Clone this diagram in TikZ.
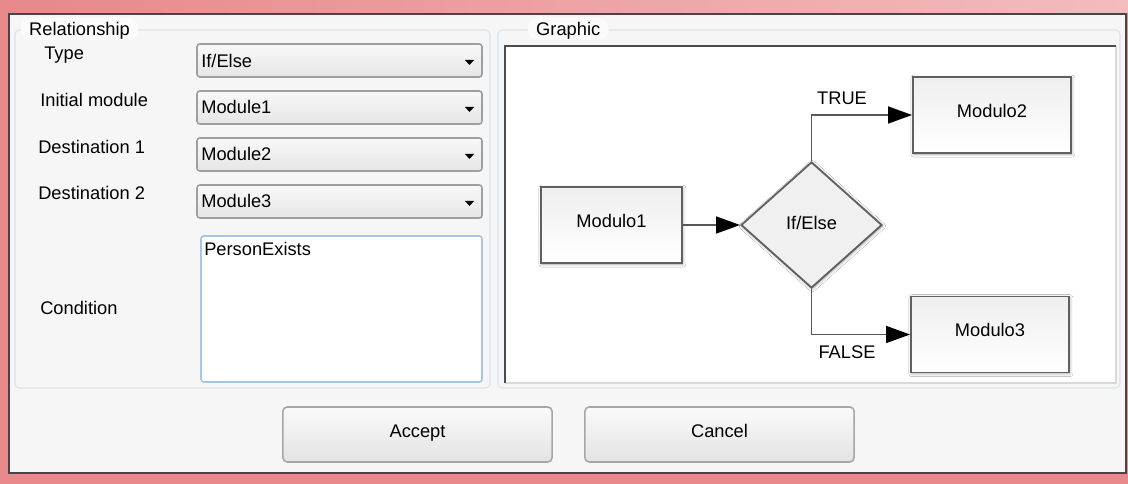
\documentclass[tikz,border=0pt]{standalone}
\usepackage{fontspec}
\setmainfont{Liberation Sans}
\usetikzlibrary{positioning, arrows.meta, shapes.geometric, shadows.blur}

\definecolor{framepink}{RGB}{231,136,138}
\definecolor{framelight}{RGB}{243,188,190}
\definecolor{winbg}{RGB}{246,246,246}
\definecolor{groupline}{RGB}{216,228,236}
\definecolor{editline}{RGB}{166,198,226}
\definecolor{boxline}{RGB}{96,96,96}
\definecolor{wireline}{RGB}{88,88,88}

\begin{document}
\begin{tikzpicture}[
        x=0.025cm, y=-0.025cm,
        every node/.style={font=\fontsize{13}{15}\selectfont, inner sep=0pt},
        txt/.style={anchor=west, text height=9.3pt, text depth=0pt},
        grouptab/.style={txt, fill=white!55!winbg, rounded corners=7pt, inner xsep=6pt, inner ysep=3pt},
        groupbox/.style={draw=groupline, line width=0.8pt, rounded corners=3pt},
        combo/.style={draw=gray!75, line width=1.1pt, rounded corners=2pt, top color=gray!5, bottom color=gray!20},
        module/.style={draw=boxline, line width=1.3pt, minimum width=3.95cm, minimum height=1.9cm,
            top color=gray!13, bottom color=white, text height=9.3pt, text depth=6pt,
            blur shadow={shadow xshift=0.6pt, shadow yshift=-0.8pt, shadow opacity=35, shadow blur steps=6}},
        decision/.style={diamond, draw=boxline, line width=1.3pt, fill=gray!12,
            minimum width=3.525cm, minimum height=3.15cm, text height=9.3pt, text depth=3pt,
            blur shadow={shadow xshift=0.6pt, shadow yshift=-0.8pt, shadow opacity=35, shadow blur steps=6}},
        flow/.style={draw=wireline, line width=1.1pt, -{Triangle[length=0.6cm, width=0.425cm, color=black]}},
        button/.style={draw=gray!70, line width=1.1pt, rounded corners=3pt, top color=gray!4, bottom color=gray!22,
            minimum width=6.725cm, minimum height=1.375cm, text height=9.3pt, text depth=5pt}]

    \useasboundingbox (0,0) rectangle (1128,484);

    % window frame
    \fill[framepink] (0,0) rectangle (1128,484);
    \shade[left color=framepink, right color=framelight] (0,0) rectangle (1128,13);
    \fill[winbg] (9,14) rectangle (1126,473);
    \draw[gray!55!black, line width=0.8pt] (9,14) rectangle (1126,473);

    % group boxes
    \draw[groupbox] (15,30) rectangle (490,388);
    \draw[groupbox] (498,30) rectangle (1120,388);
    \node[grouptab] (reltab) at (20.5,29) {Relationship};
    \node[grouptab] (gratab) at (527.5,29) {Graphic};

    % form labels
    \node[txt] (typelbl) at (44,53) {Type};
    \node[txt] (initlbl) at (40,100) {Initial module};
    \node[txt] (dest1lbl) at (38,147) {Destination 1};
    \node[txt] (dest2lbl) at (38,193) {Destination 2};
    \node[txt] (condlbl) at (40,308) {Condition};

    % combo boxes
    \draw[combo] (197,44) rectangle (482,77);
    \node[txt] (typeval) at (201,61) {If/Else};
    \fill (465,60) -- (474,60) -- (469.5,65) -- cycle;

    \draw[combo] (197,91) rectangle (482,124);
    \node[txt] (initval) at (201,107) {Module1};
    \fill (465,107) -- (474,107) -- (469.5,112) -- cycle;

    \draw[combo] (197,138) rectangle (482,171);
    \node[txt] (dest1val) at (201,154) {Module2};
    \fill (465,154) -- (474,154) -- (469.5,159) -- cycle;

    \draw[combo] (197,185) rectangle (482,218);
    \node[txt] (dest2val) at (201,201) {Module3};
    \fill (465,201) -- (474,201) -- (469.5,206) -- cycle;

    % condition edit box
    \draw[draw=editline, line width=1.1pt, fill=white, rounded corners=2pt] (201,236) rectangle (482,382);
    \node[txt] (condval) at (204,249) {PersonExists};

    % drawing canvas
    \fill[white] (505,46) rectangle (1116,383);
    \draw[gray!30, line width=0.8pt] (505,383) -- (1116,383) -- (1116,46);
    \draw[gray!60!black, line width=1.3pt] (505,383) -- (505,46) -- (1116,46);

    % flowchart
    \node[module, minimum width=3.525cm] (mod1) at (611.5,225) {Modulo1};
    \node[module] (mod2) at (992,115) {Modulo2};
    \node[module] (mod3) at (990,334.5) {Modulo3};
    \node[decision] (ifelse) at (811.5,225) {If/Else};

    \draw[flow] (mod1) -- (ifelse);
    \draw[flow] (ifelse.north) |- (mod2);
    \draw[flow] (ifelse.south) |- (mod3);
    \node[text height=9.3pt, text depth=0pt] (truelbl) at (842,98) {TRUE};
    \node[text height=9.3pt, text depth=0pt] (falselbl) at (847,352) {FALSE};

    % buttons
    \node[button] (accept) at (417.5,434.5) {Accept};
    \node[button] (cancel) at (719.5,434.5) {Cancel};

\end{tikzpicture}
\end{document}
